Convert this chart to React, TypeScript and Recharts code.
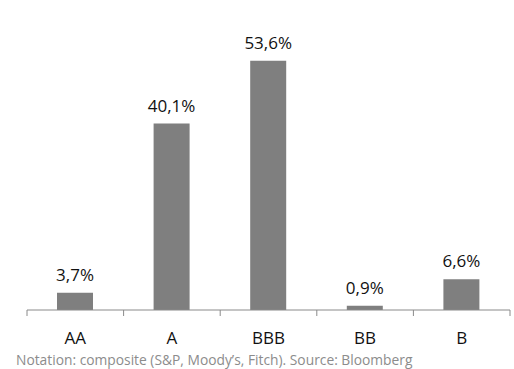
import { BarChart, Bar, XAxis, YAxis, LabelList } from 'recharts';

const ratings = ['AA', 'A', 'BBB', 'BB', 'B'];
const shares = [3.7, 40.1, 53.6, 0.9, 6.6];

const data = ratings.map((rating, i) => ({ rating, share: shares[i] }));

const FONT = '"Open Sans", "Noto Sans", sans-serif';
const AXIS_COLOR = '#8a8a8a';

// category tick: label under the bar, tick marks on the band edges
const RatingTick = (props: any) => {
  const { x, y, payload, index, visibleTicksCount } = props;
  const half = payload.offset ?? 48.3;
  const axisY = y - 4;
  const isLast = index === visibleTicksCount - 1;
  return (
    <g>
      <line x1={x - half} x2={x - half} y1={axisY} y2={axisY + 6} stroke={AXIS_COLOR} />
      {isLast && (
        <line x1={x + half} x2={x + half} y1={axisY} y2={axisY + 6} stroke={AXIS_COLOR} />
      )}
      <text x={x} y={axisY + 34} textAnchor="middle" fontSize={17} fontFamily={FONT} fill="#111">
        {payload.value}
      </text>
    </g>
  );
};

const RatingChart = () => {
  return (
    <div style={{ position: 'absolute', left: 0, top: 0, width: 514, height: 369, background: '#fff' }}>
      <BarChart
        width={514}
        height={369}
        data={data}
        margin={{ top: 31, right: 4, left: 27, bottom: 29 }}
      >
        <XAxis
          dataKey="rating"
          axisLine={{ stroke: AXIS_COLOR }}
          tickLine={false}
          tickSize={0}
          tickMargin={4}
          height={30}
          interval={0}
          tick={<RatingTick />}
        />
        <YAxis hide domain={[0, 60]} />
        <Bar dataKey="share" fill="#7f7f7f" barSize={36} isAnimationActive={false}>
          <LabelList
            dataKey="share"
            position="top"
            offset={12}
            formatter={(v: any) => `${String(v).replace('.', ',')}%`}
            style={{ fontSize: 17, fontFamily: FONT, fill: '#111' }}
          />
        </Bar>
      </BarChart>
      <div
        style={{
          position: 'absolute',
          left: 16,
          top: 352,
          fontSize: 13.8,
          lineHeight: '16px',
          fontFamily: FONT,
          color: '#8c8c8c',
          whiteSpace: 'nowrap',
        }}
      >
        Notation: composite (S&amp;P, Moody’s, Fitch). Source: Bloomberg
      </div>
    </div>
  );
};

export default RatingChart;
